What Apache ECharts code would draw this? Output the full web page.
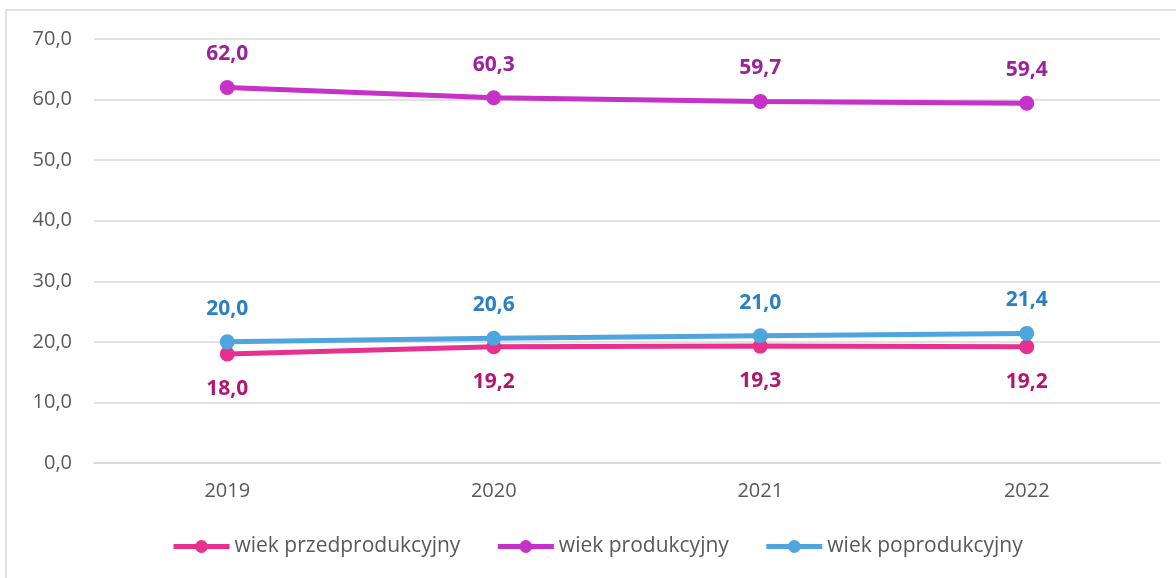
<!DOCTYPE html>
<html lang="pl">
<head>
  <meta charset="UTF-8">
  <title>Struktura wieku ludności</title>
  <script src="https://cdn.jsdelivr.net/npm/echarts@6/dist/echarts.min.js"></script>
  <style>
    html, body {
      margin: 0;
      padding: 0;
      background: #fff;
      overflow: hidden;
    }
    #chart {
      width: 1176px;
      height: 578px;
    }
  </style>
</head>
<body>
  <div id="chart"></div>
  <script>
    // dane
    const years = ['2019', '2020', '2021', '2022'];
    const przedprodukcyjny = [18.0, 19.2, 19.3, 19.2];
    const produkcyjny = [62.0, 60.3, 59.7, 59.4];
    const poprodukcyjny = [20.0, 20.6, 21.0, 21.4];

    const fontFamily = '"Open Sans", "Noto Sans", sans-serif';
    const fmt = v => v.toFixed(1).replace('.', ',');

    function makeSeries(name, data, lineColor, labelColor, pos, dist) {
      return {
        name: name,
        type: 'line',
        data: data,
        symbol: 'circle',
        symbolSize: 15,
        lineStyle: { color: lineColor, width: 5 },
        itemStyle: { color: lineColor },
        label: {
          show: true,
          position: pos,
          distance: dist,
          color: labelColor,
          fontWeight: 'bold',
          fontSize: 21,
          fontFamily: fontFamily,
          formatter: p => fmt(p.value)
        }
      };
    }

    const chart = echarts.init(document.getElementById('chart'));
    chart.setOption({
      animation: false,
      textStyle: { fontFamily: fontFamily },
      graphic: [{
        type: 'rect',
        shape: { x: 6, y: 10, width: 1200, height: 600 },
        style: { fill: 'none', stroke: '#d9d9d9', lineWidth: 1.5 },
        silent: true
      }],
      grid: {
        left: 94,
        right: 16,
        top: 39,
        bottom: 115
      },
      legend: {
        bottom: 16,
        left: 166,
        itemWidth: 56,
        itemHeight: 16,
        itemGap: 35,
        lineStyle: { width: 5 },
        textStyle: { color: '#595959', fontSize: 21, fontFamily: fontFamily }
      },
      xAxis: {
        type: 'category',
        data: years,
        boundaryGap: true,
        axisLine: { lineStyle: { color: '#d9d9d9', width: 1.5 } },
        axisTick: { show: false },
        axisLabel: { color: '#595959', fontSize: 20, margin: 18 }
      },
      yAxis: {
        type: 'value',
        min: 0,
        max: 70,
        interval: 10,
        axisLine: { show: false },
        axisTick: { show: false },
        axisLabel: { color: '#595959', fontSize: 20, margin: 22, formatter: v => fmt(v) },
        splitLine: { lineStyle: { color: '#d9d9d9', width: 1.5 } }
      },
      series: [
        makeSeries('wiek przedprodukcyjny', przedprodukcyjny, '#e8308f', '#b0176f', 'bottom', 17),
        makeSeries('wiek produkcyjny', produkcyjny, '#c632c8', '#9b229b', 'top', 15),
        makeSeries('wiek poprodukcyjny', poprodukcyjny, '#4fa6de', '#2a80c0', 'top', 15)
      ]
    });
  </script>
</body>
</html>
